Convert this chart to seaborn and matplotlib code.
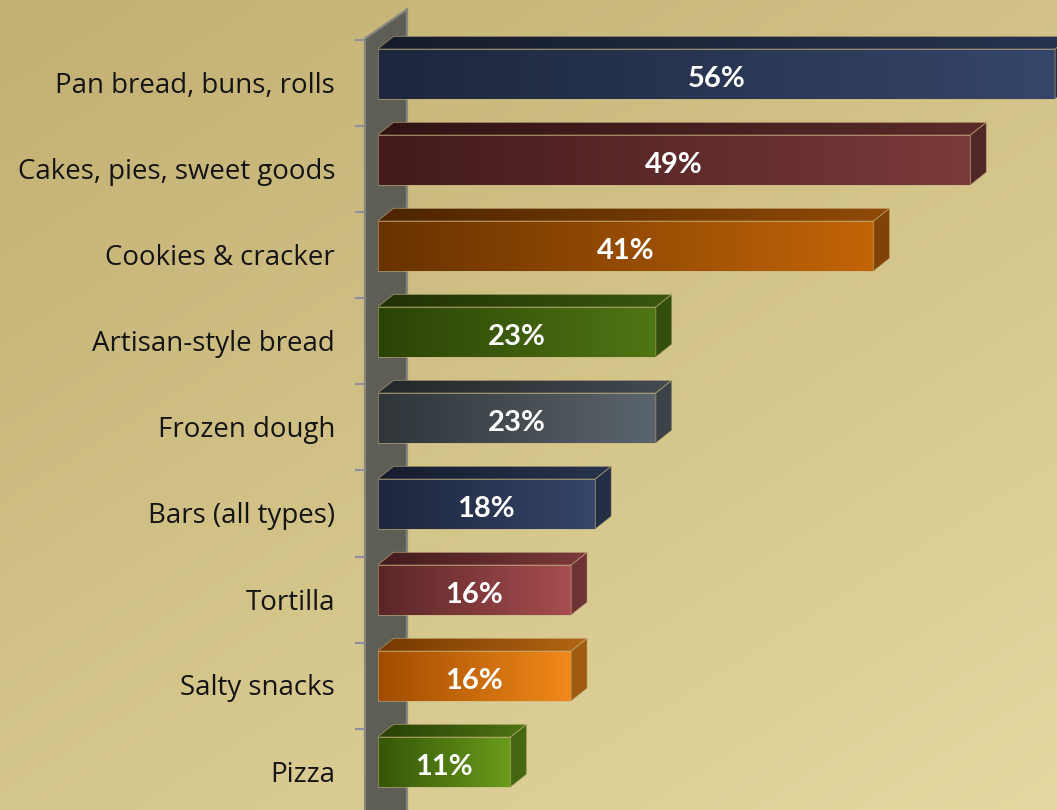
import numpy as np
import pandas as pd
import matplotlib
matplotlib.use("Agg")
import matplotlib.pyplot as plt
import seaborn as sns
from matplotlib.patches import Polygon
from matplotlib.colors import to_rgb

# ---- data -------------------------------------------------------------
categories = [
    "Pan bread, buns, rolls",
    "Cakes, pies, sweet goods",
    "Cookies & cracker",
    "Artisan-style bread",
    "Frozen dough",
    "Bars (all types)",
    "Tortilla",
    "Salty snacks",
    "Pizza",
]
values = [56, 49, 41, 23, 23, 18, 16, 16, 11]
value_labels = ["56%", "49%", "41%", "23%", "23%", "18%", "16%", "16%", "11%"]

# gradient colours of each bar's front face (dark end, light end)
dark_colors = ["#1D263C", "#421A1C", "#683200", "#2C4306", "#2F3539",
               "#1D263C", "#5A2527", "#A04C00", "#365608"]
light_colors = ["#36466A", "#7B3A3A", "#C36508", "#4F7614", "#5B656D",
                "#364669", "#A84E50", "#F28A1A", "#6A9C1A"]

# ---- layout (pixels) --------------------------------------------------
W, H = 1057, 810
AX_LEFT = 377.5          # front face of the bars starts here
AX_TOP, AX_BOTTOM = 31, 805
PX_PER_PCT = 12.1
BAR_DEPTH = (16, 12.7)   # bar extrusion: right, up
WALL_SHIFT = (-12.5, 9.5)  # wall front plane relative to bar front plane
WALL_DEPTH = (42, 29)
TOP_SHADE, SIDE_SHADE = 0.74, 0.66

sns.set_theme(style="white")
plt.rcParams["font.family"] = ["Lato", "DejaVu Sans"]

fig = plt.figure(figsize=(W / 100, H / 100), dpi=100)

# background with a diagonal tan gradient, in pixel coordinates
bg = fig.add_axes([0, 0, 1, 1], zorder=0)
bg.set_xlim(0, W)
bg.set_ylim(H, 0)
bg.axis("off")
gx, gy = np.meshgrid(np.linspace(0, 1, 300), np.linspace(0, 1, 300))
t = (0.45 * gx + 0.55 * gy)[..., None]
c0, c1 = np.array(to_rgb("#C2AF72")), np.array(to_rgb("#E4D8A0"))
bg.imshow(c0 + (c1 - c0) * t, extent=(0, W, H, 0), aspect="auto",
          interpolation="bilinear", zorder=0)

# main plotting axes
ax = fig.add_axes([AX_LEFT / W, (H - AX_BOTTOM) / H,
                   (W - AX_LEFT) / W, (AX_BOTTOM - AX_TOP) / H], zorder=2)
ax.patch.set_alpha(0)

df = pd.DataFrame({"category": categories, "value": values})
sns.barplot(data=df, x="value", y="category", hue="category",
            palette=light_colors, orient="h", width=0.58, saturation=1,
            legend=False, ax=ax)
ax.set_xlim(0, (W - AX_LEFT) / PX_PER_PCT)
ax.set_ylim(len(categories) - 0.5, -0.5)
ax.axis("off")

# pixel size of one data unit
p0 = ax.transData.transform((0, 0))
p1 = ax.transData.transform((1, 1))
px_x = abs(p1[0] - p0[0])
px_y = abs(p1[1] - p0[1])
ddx = BAR_DEPTH[0] / px_x
ddy = BAR_DEPTH[1] / px_y


def gradient(c_left, c_right, scale=1.0, n=256):
    a = np.array(to_rgb(c_left)) * scale
    b = np.array(to_rgb(c_right)) * scale
    s = np.linspace(0, 1, n)[None, :, None]
    return np.clip(a + (b - a) * s, 0, 1).repeat(2, axis=0)


edge_kw = dict(edgecolor=(0.78, 0.71, 0.50, 0.55), linewidth=0.7)

for container in ax.containers:
    for patch in container.patches:
        x0 = patch.get_x()
        x1 = x0 + patch.get_width()
        y_lo = patch.get_y()
        y_hi = y_lo + patch.get_height()
        i = int(round((y_lo + y_hi) / 2))
        cd, cl = dark_colors[i], light_colors[i]

        # front face
        patch.set_facecolor("none")
        patch.set(**edge_kw)
        patch.set_zorder(4)
        im = ax.imshow(gradient(cd, cl), extent=(x0, x1, y_hi, y_lo),
                       aspect="auto", interpolation="bilinear", zorder=3)
        im.set_clip_path(patch)

        # top face
        top = Polygon([(x0, y_lo), (x1, y_lo), (x1 + ddx, y_lo - ddy),
                       (x0 + ddx, y_lo - ddy)], closed=True,
                      facecolor="none", zorder=4, **edge_kw)
        ax.add_patch(top)
        im_t = ax.imshow(gradient(cd, cl, TOP_SHADE),
                         extent=(x0, x1 + ddx, y_lo, y_lo - ddy),
                         aspect="auto", interpolation="bilinear", zorder=3)
        im_t.set_clip_path(top)

        # right side face
        side_col = np.array(to_rgb(cl)) * SIDE_SHADE
        side = Polygon([(x1, y_lo), (x1 + ddx, y_lo - ddy),
                        (x1 + ddx, y_hi - ddy), (x1, y_hi)], closed=True,
                       facecolor=side_col, zorder=4, clip_on=False, **edge_kw)
        ax.add_patch(side)

    texts = ax.bar_label(container,
                         labels=[value_labels[int(round(p.get_y() + p.get_height() / 2))]
                                 for p in container.patches],
                         label_type="center", color="white", fontweight="bold",
                         fontsize=21, zorder=6)
    for txt in texts:
        txt.set_va("center_baseline")
        txt.xyann = (0, -2)

ax.set_xlim(0, (W - AX_LEFT) / PX_PER_PCT)
ax.set_ylim(len(categories) - 0.5, -0.5)


def to_px(x, y):
    d = ax.transData.transform((x, y))
    return d[0], H - d[1]


# 3-D wall on the left
top_left = to_px(0, -0.5)
wx = top_left[0] + WALL_SHIFT[0]
wy = top_left[1] + WALL_SHIFT[1] - 2
wall = Polygon([(wx, wy), (wx + WALL_DEPTH[0], wy - WALL_DEPTH[1]),
                (wx + WALL_DEPTH[0], H + 10), (wx, H + 10)], closed=True,
               facecolor="#5E5E56", edgecolor="#86867F", linewidth=1.6, zorder=2)
bg.add_patch(wall)

# category ticks on the wall edge
for k in range(len(categories)):
    _, ty = to_px(0, k - 0.5)
    ty += WALL_SHIFT[1]
    bg.plot([wx - 10, wx], [ty, ty], color="#8E8E9C", lw=1.5, zorder=3,
            solid_capstyle="butt")

# category labels
for k, name in enumerate(categories):
    _, cy = to_px(0, k)
    bg.text(wx - 30, cy + WALL_SHIFT[1] + 10, name, ha="right", va="baseline",
            fontsize=19.9, color="#141414", zorder=3, family=["Open Sans", "DejaVu Sans"])

fig.savefig("out.png", dpi=100)
